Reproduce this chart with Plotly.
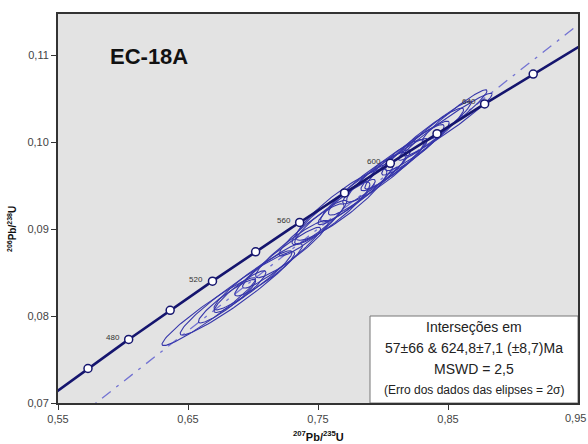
import numpy as np
import plotly.graph_objects as go

# --- data ---
lam238 = 1.55125e-10
lam235 = 9.8485e-10
concordia_ages = [460, 480, 500, 520, 540, 560, 580, 600, 620, 640, 660]  # Ma
label_ages = [480, 520, 560, 600, 640]
lower_intercept = 57.0    # Ma
upper_intercept = 624.8   # Ma

# ellipses: centre (207Pb/235U, 206Pb/238U), 2-sigma half errors, correlation
ell_x = [0.666, 0.688, 0.680, 0.700, 0.712, 0.722, 0.730, 0.745, 0.760, 0.768, 0.772, 0.780,
         0.788, 0.795, 0.802, 0.810, 0.815, 0.825, 0.832, 0.840, 0.850, 0.855, 0.690, 0.752]
ell_y = [0.0805, 0.0826, 0.0817, 0.0841, 0.0853, 0.0867, 0.0877, 0.0899, 0.0918, 0.0928, 0.0931, 0.0942,
         0.0952, 0.0960, 0.0967, 0.0975, 0.0982, 0.0993, 0.1003, 0.1013, 0.1020, 0.1030, 0.0828, 0.0908]
ell_sx = [0.036, 0.044, 0.022, 0.030, 0.026, 0.030, 0.028, 0.025, 0.030, 0.035, 0.022, 0.028,
          0.030, 0.026, 0.030, 0.024, 0.032, 0.026, 0.030, 0.028, 0.034, 0.025, 0.020, 0.020]
ell_sy = [0.0039, 0.0048, 0.0025, 0.0034, 0.0030, 0.0035, 0.0033, 0.0030, 0.0036, 0.0041, 0.0026, 0.0034,
          0.0036, 0.0031, 0.0036, 0.0029, 0.0038, 0.0031, 0.0036, 0.0034, 0.0036, 0.0030, 0.0024, 0.0025]
ell_rho = [0.96, 0.96, 0.93, 0.94, 0.93, 0.95, 0.93, 0.93, 0.92, 0.91, 0.93, 0.93,
           0.93, 0.94, 0.93, 0.94, 0.95, 0.94, 0.95, 0.96, 0.97, 0.96, 0.92, 0.92]

x_major = [0.55, 0.65, 0.75, 0.85, 0.95]
x_ticktext = ["0,55", "0,65", "0,75", "0,85", "0,95"]
x_minor = [0.60, 0.70, 0.80, 0.90]
y_major = [0.07, 0.08, 0.09, 0.10, 0.11]
y_ticktext = ["0,07", "0,08", "0,09", "0,10", "0,11"]
y_minor = [0.075, 0.085, 0.095, 0.105]

title_text = "EC-18A"
box_lines = ["Interseções em", "57±66 & 624,8±7,1 (±8,7)Ma", "MSWD = 2,5"]
box_note = "(Erro dos dados das elipses = 2σ)"


def conc(t_ma):
    t = np.asarray(t_ma, dtype=float) * 1e6
    return np.exp(lam235 * t) - 1, np.exp(lam238 * t) - 1


FONT = "Arial, Liberation Sans, sans-serif"
fig = go.Figure()

# discordia (dash-dot)
lx, ly = conc([lower_intercept, upper_intercept])
slope = (ly[1] - ly[0]) / (lx[1] - lx[0])
dx = np.array([0.55, 0.95])
dy = ly[0] + slope * (dx - lx[0])
fig.add_trace(go.Scatter(x=dx, y=dy, mode="lines",
                         line=dict(color="#7373d2", width=1.3, dash="11px,7px,3px,7px"),
                         hoverinfo="skip", showlegend=False))

# ellipses
theta = np.linspace(0, 2 * np.pi, 120)
for cx, cy, sx, sy, r in zip(ell_x, ell_y, ell_sx, ell_sy, ell_rho):
    ex = cx + sx * np.cos(theta)
    ey = cy + sy * (r * np.cos(theta) + np.sqrt(1 - r * r) * np.sin(theta))
    fig.add_trace(go.Scatter(x=ex, y=ey, mode="lines",
                             line=dict(color="#3636aa", width=1.1),
                             hoverinfo="skip", showlegend=False))

# concordia curve
tc = np.linspace(430, 720, 300)
cx_, cy_ = conc(tc)
fig.add_trace(go.Scatter(x=cx_, y=cy_, mode="lines",
                         line=dict(color="#15156e", width=2.6),
                         hoverinfo="skip", showlegend=False))
px_, py_ = conc(concordia_ages)
fig.add_trace(go.Scatter(x=px_, y=py_, mode="markers",
                         marker=dict(size=8, color="white",
                                     line=dict(color="#15156e", width=1.5)),
                         hoverinfo="skip", showlegend=False))

annotations = []
lxs, lys = conc(label_ages)
for a, xa, ya in zip(label_ages, lxs, lys):
    annotations.append(dict(x=xa, y=ya, text=str(a), showarrow=False,
                            xanchor="right", yanchor="middle", xshift=-7, yshift=2,
                            font=dict(family=FONT, size=8, color="#333333")))

annotations.append(dict(xref="paper", yref="paper", x=(149 - 58) / 520, y=(403 - 57) / 389,
                        text="<b>" + title_text + "</b>", showarrow=False,
                        xanchor="center", yanchor="middle",
                        font=dict(family=FONT, size=22, color="#111111")))

# result box
fig.add_shape(type="rect", xref="x", yref="y", x0=0.79, x1=0.95, y0=0.07, y1=0.08,
              fillcolor="white", line=dict(color="#777777", width=1), layer="above")
box_centre = 0.87
box_y_px = [327, 348, 369]
for txt, ypx in zip(box_lines, box_y_px):
    annotations.append(dict(xref="x", yref="paper", x=box_centre, y=(403 - ypx) / 389,
                            text=txt, showarrow=False, xanchor="center", yanchor="middle",
                            font=dict(family=FONT, size=14, color="#222222")))
annotations.append(dict(xref="x", yref="paper", x=box_centre, y=(403 - 390) / 389,
                        text=box_note, showarrow=False, xanchor="center", yanchor="middle",
                        font=dict(family=FONT, size=12, color="#222222")))

tickfont = dict(family=FONT, size=11, color="#444444")
# last x tick label sits at the very right edge of the page
annotations.append(dict(xref="paper", yref="paper", x=1 + 10 / 520, y=(403 - 418) / 389,
                        text=x_ticktext[-1], showarrow=False, xanchor="right",
                        yanchor="middle", font=tickfont))

# axis titles
annotations.append(dict(xref="paper", yref="paper", x=0.5, y=(403 - 436) / 389,
                        text="<b><sup>207</sup>Pb/<sup>235</sup>U</b>", showarrow=False,
                        xanchor="center", yanchor="middle",
                        font=dict(family=FONT, size=11, color="#111111")))
annotations.append(dict(xref="paper", yref="paper", x=(12 - 58) / 520, y=(403 - 229) / 389,
                        text="<b><sup>206</sup>Pb/<sup>238</sup>U</b>", showarrow=False,
                        textangle=-90, xanchor="center", yanchor="middle",
                        font=dict(family=FONT, size=10, color="#111111")))

x_range = [0.55, 0.95]
y_range = [0.07, 0.07 + 389 / 8700]
fig.update_layout(
    width=588, height=444,
    margin=dict(l=58, r=10, t=14, b=41, autoexpand=False),
    paper_bgcolor="white", plot_bgcolor="#e3e3e3",
    annotations=annotations,
    showlegend=False,
    xaxis=dict(range=x_range, tickmode="array", tickvals=x_major[:-1],
               ticktext=x_ticktext[:-1],
               ticks="outside", ticklen=5, tickwidth=1, tickcolor="#333333",
               showgrid=False, zeroline=False, showline=True, linecolor="#333333",
               linewidth=2, mirror=True, automargin=False, tickfont=tickfont),
    yaxis=dict(range=y_range, tickmode="array", tickvals=y_major,
               ticktext=y_ticktext,
               ticks="outside", ticklen=5, tickwidth=1, tickcolor="#333333",
               showgrid=False, zeroline=False, showline=True, linecolor="#333333",
               linewidth=2, mirror=True, automargin=False, tickfont=tickfont),
    # overlay axes carrying the unlabeled intermediate ticks
    xaxis2=dict(range=x_range, overlaying="x", side="bottom", anchor="y",
                tickmode="array", tickvals=x_minor, showticklabels=False,
                ticks="outside", ticklen=5, tickwidth=1, tickcolor="#333333",
                showgrid=False, zeroline=False, showline=False, automargin=False),
    yaxis2=dict(range=y_range, overlaying="y", side="left", anchor="x",
                tickmode="array", tickvals=y_minor, showticklabels=False,
                ticks="outside", ticklen=5, tickwidth=1, tickcolor="#333333",
                showgrid=False, zeroline=False, showline=False, automargin=False),
)

fig.write_html("out.html", config={"displayModeBar": False},
               post_script="document.body.style.margin='0';document.body.style.padding='0';")
